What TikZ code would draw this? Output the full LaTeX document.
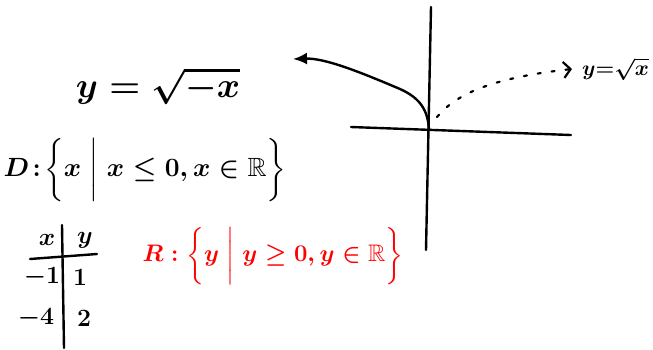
\documentclass[tikz,border=0pt]{standalone}
\usepackage{amsmath,amssymb}
\usepackage{graphicx}
\usepackage{xcolor}
\usepackage{tikz}
\usetikzlibrary{arrows.meta}

\begin{document}
\begin{tikzpicture}[
		x=1pt, y=-1pt,
		hand/.style={line width=2.4pt, line cap=round, line join=round},
		bigtext/.style={font=\fontsize{24.88}{30}\selectfont\boldmath, inner sep=0pt},
		curvearrow/.style={hand, -{Latex[length=14pt, width=12pt]}},
		dotarrow/.style={line width=2.2pt, line cap=round, dash pattern=on 3pt off 11pt,
			-{Straight Barb[length=7pt, width=16pt, line width=2.2pt]}}
	]
	\useasboundingbox (0,0) rectangle (653,349);

	% axes
	\coordinate (xleft) at (351,127);
	\coordinate (xright) at (571,135);
	\coordinate (ytop) at (431,7);
	\coordinate (ybottom) at (426,250);
	\draw[hand] (xleft) -- (xright);
	\draw[hand] (ytop) -- (ybottom);

	% graphs
	\coordinate (origin) at (429,130);
	\coordinate (lefttip) at (293,59);
	\coordinate (dotstart) at (437,117);
	\node[bigtext, anchor=west] (sqrtlabel) at (582,69) {\scalebox{0.86}{$y{=}\sqrt{x}$}};
	\draw[curvearrow] (origin) .. controls (428,110) and (420,98) .. (400,89)
		.. controls (360,72) and (325,58) .. (lefttip);
	\draw[dotarrow] (dotstart) .. controls (455,95) and (490,78) .. ([xshift=-10pt]sqrtlabel.west);

	% function and domain
	\node[bigtext] (func) at (158,86) {\scalebox{1.42}{$y = \sqrt{-x}$}};
	\node[bigtext] (domain) at (145,170) {\scalebox{1.06}{$D\!:\!\biggl\{x \biggm| x \le 0, x \in \mathbb{R}\biggr\}$}};

	% table of values
	\coordinate (hleft) at (30,259);
	\coordinate (hright) at (97,254);
	\coordinate (vtop) at (62,225);
	\coordinate (vbottom) at (64,348);
	\draw[hand] (hleft) -- (hright);
	\draw[hand] (vtop) -- (vbottom);
	\node[bigtext] (xhead) at (47,240) {$x$};
	\node[bigtext] (yhead) at (85,240) {$y$};
	\node[bigtext] (xone) at (42,277) {$-1$};
	\node[bigtext] (yone) at (80,277) {$1$};
	\node[bigtext] (xtwo) at (36,318) {$-4$};
	\node[bigtext] (ytwo) at (84,318) {$2$};

	% range
	\node[bigtext, text=red] (range) at (273,256) {\scalebox{0.96}{$R: \biggl\{y \biggm| y \ge 0, y \in \mathbb{R}\biggr\}$}};
\end{tikzpicture}
\end{document}
